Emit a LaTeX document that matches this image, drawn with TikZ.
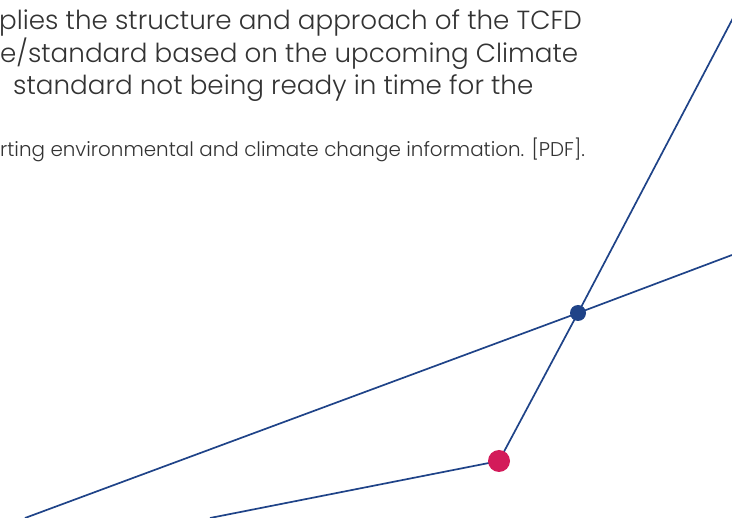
\documentclass[tikz,border=0pt]{standalone}
\usepackage{fontspec}
\setmainfont{Poppins Light}
\usepackage{tikz}
\definecolor{navyline}{HTML}{1F4388}
\definecolor{crimsondot}{HTML}{D31B5A}
\tikzset{
	bluedot/.style={circle,fill=navyline,inner sep=0pt,minimum size=16pt},
	pinkdot/.style={circle,fill=crimsondot,inner sep=0pt,minimum size=22pt},
	wire/.style={draw=navyline,line width=1.7pt},
	bigline/.style={anchor=base west,inner sep=0pt,text=black!80,font=\fontsize{26.2}{30}\selectfont},
	smallline/.style={anchor=base west,inner sep=0pt,text=black!80,font=\fontsize{19.9}{23}\selectfont}
}

\begin{document}
\begin{tikzpicture}[x=1pt,y=-1pt]
			%%%%% START %%%%%
			\def\W{732}
			\def\H{518}
			\def\xhub{578}
			\def\yhub{313}
			\def\xknee{499}
			\def\yknee{461}
			
			\useasboundingbox (0,0) rectangle (\W,\H);
			\clip (0,0) rectangle (\W,\H);
			
			\node[bigline] (lineone) at (-1,30) {plies the structure and approach of the TCFD};
			\node[bigline] (linetwo) at (0,62.5) {e/standard based on the upcoming Climate};
			\node[bigline] (linethree) at (13,95) {standard not being ready in time for the};
			\node[smallline] (source) at (0,156.5) {rting environmental and climate change information. [PDF].};
			
			\coordinate (hub) at (\xhub,\yhub);
			\coordinate (knee) at (\xknee,\yknee);
			\coordinate (topend) at (742.5,0);
			\coordinate (rightend) at (\W,255);
			\coordinate (leftend) at (25,\H);
			\coordinate (bottomend) at (210,\H);
			
			\draw[wire] (leftend) -- (hub) -- (rightend);
			\draw[wire] (topend) -- (hub) -- (knee) -- (bottomend);
			
			\node[bluedot] (hubdot) at (hub) {};
			\node[pinkdot] (kneedot) at (knee) {};
			%%%%% END %%%%%
\end{tikzpicture}
\end{document}
